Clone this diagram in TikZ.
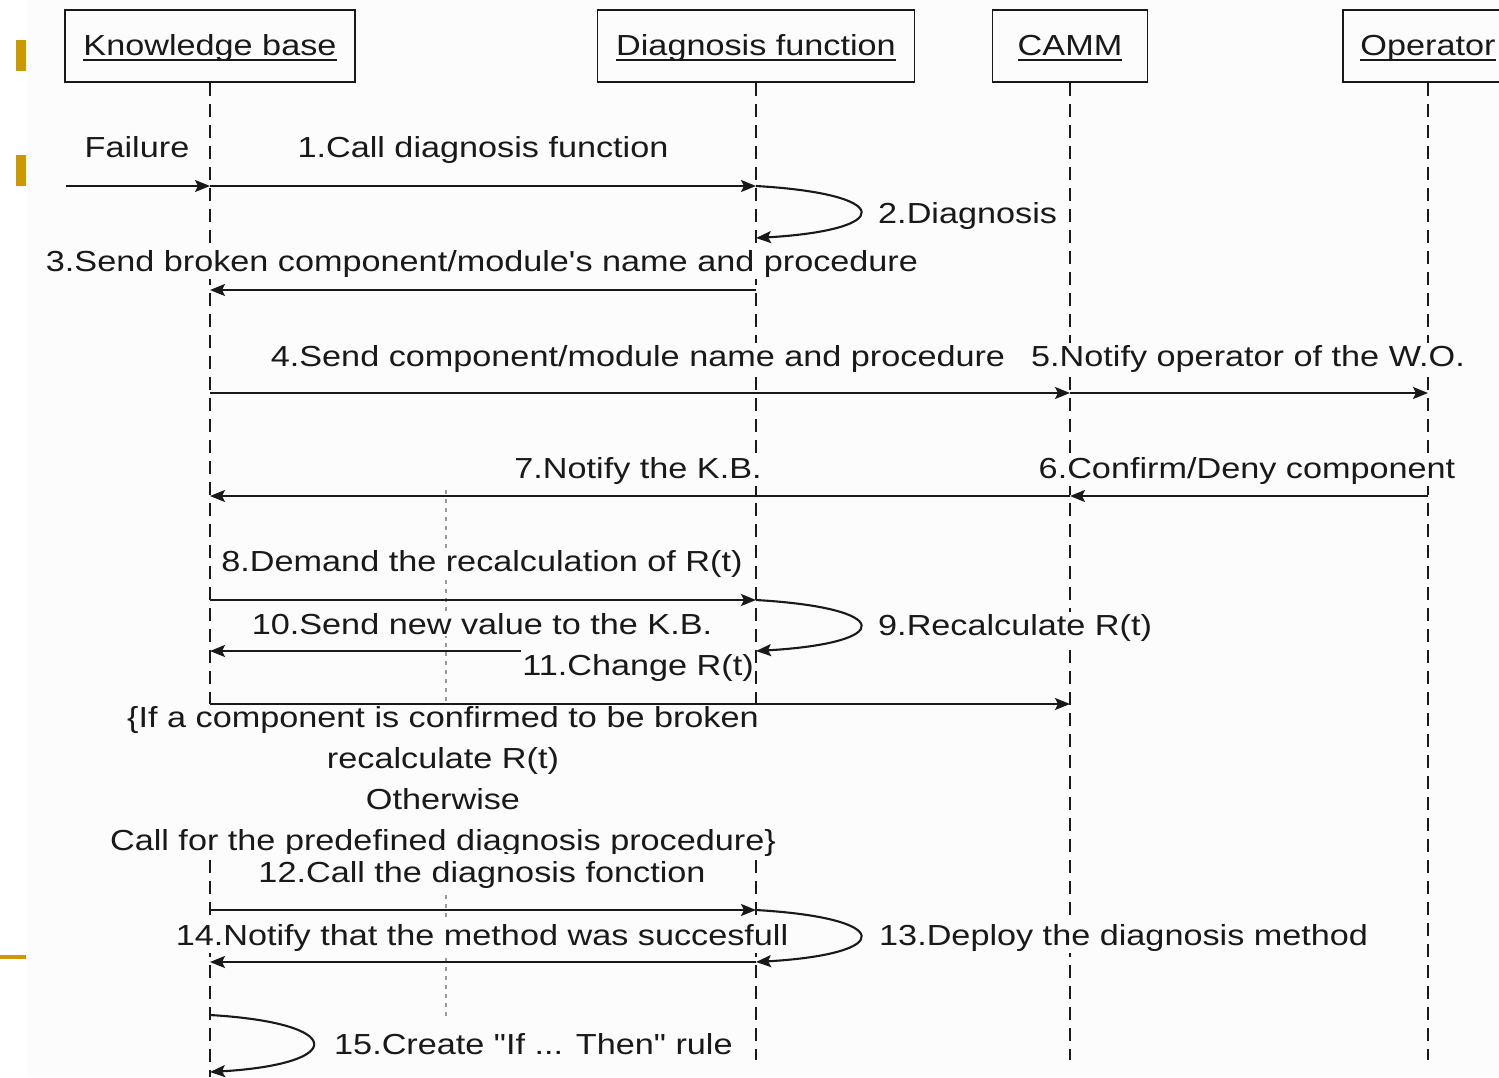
\documentclass[tikz,border=0pt]{standalone}
\usetikzlibrary{arrows.meta}
\definecolor{slidebg}{RGB}{252,252,252}
\definecolor{slidegold}{RGB}{204,153,0}
\definecolor{inkgray}{RGB}{25,25,25}
\font\seqfontraw="Liberation Sans:extend=1.18" at 29pt
\newcommand\seqfont{\seqfontraw\baselineskip=41pt\relax}
\newcommand\headname[1]{\setbox0=\hbox{#1}\rlap{\vrule width \wd0 height -4pt depth 6pt}\box0}

\begin{document}
\begin{tikzpicture}[x=1pt,y=-1pt,>={Stealth[length=15pt,width=12pt,inset=3pt]},
  head node/.style={rectangle,draw=inkgray,line width=1.6pt,minimum width=#1,minimum height=72pt,inner sep=0pt,text height=24pt,text depth=6pt,font=\seqfont,text=inkgray},
  life line/.style={draw=inkgray,line width=1.5pt,dash pattern=on 13pt off 8pt},
  guide line/.style={draw=black!40,line width=1.2pt,dash pattern=on 4pt off 5pt},
  msg line/.style={->,draw=inkgray,line width=2.1pt},
  label node/.style={anchor=base,fill=slidebg,inner sep=2pt,font=\seqfont,text=inkgray}]

\useasboundingbox (0,0) rectangle (1499,1077);
\fill[white] (0,0) rectangle (1499,1077);
\fill[slidebg] (27,0) rectangle (1499,1077);
\fill[slidegold] (16,40) rectangle (26,71);
\fill[slidegold] (16,155) rectangle (26,186);
\fill[slidegold] (0,955) rectangle (26,959);

\node[head node=290] (kb) at (210,46) {\headname{Knowledge base}};
\node[head node=317] (df) at (756,46) {\headname{Diagnosis function}};
\node[head node=155] (camm) at (1070,46) {\headname{CAMM}};
\node[head node=170] (op) at (1428,46) {\headname{Operator}};

\coordinate (kb-end) at (210,1077);
\coordinate (df-end) at (756,1060);
\coordinate (camm-end) at (1070,1060);
\coordinate (op-end) at (1428,1060);
\coordinate (found) at (66,186);
\coordinate (guide-top) at (446,490);
\coordinate (guide-end) at (446,1020);

\foreach \r/\h in {a/186,b/238,c/290,d/393,e/496,f/600,g/651,h/704,i/910,j/962,k/1015,l/1072}{
  \coordinate (row-\r) at (0,\h);
  \foreach \who in {kb,df,camm,op}
    \coordinate (\who-\r) at (\who |- row-\r);
}

\foreach \who in {kb,df,camm,op}
  \draw[life line] (\who.south) -- (\who-end);
\draw[guide line] (guide-top) -- (guide-end);

\node[label node] (s0) at (137,157) {Failure};
\node[label node] (s1) at (483,157) {1.Call diagnosis function};
\node[label node,anchor=base west] (s2) at (876,223) {2.Diagnosis};
\node[label node] (s3) at (482,271) {3.Send broken component/module's name and procedure};
\node[label node] (s4) at (638,366) {4.Send component/module name and procedure};
\node[label node] (s5) at (1248,366) {5.Notify operator of the W.O.};
\node[label node] (s6) at (1247,478) {6.Confirm/Deny component};
\node[label node] (s7) at (638,478) {7.Notify the K.B.};
\node[label node] (s8) at (482,571) {8.Demand the recalculation of R(t)};
\node[label node,anchor=base west] (s9) at (876,635) {9.Recalculate R(t)};
\node[label node] (s10) at (482,634) {10.Send new value to the K.B.};
\node[label node,anchor=north,align=center,inner ysep=2pt,inner xsep=3pt] (cond) at (443,704)
  {\{If a component is confirmed to be broken\\recalculate R(t)\\Otherwise\\Call for the predefined diagnosis procedure\}};
\node[label node,inner ysep=7pt] (s12) at (482,882) {12.Call the diagnosis fonction};
\node[label node,anchor=base west] (s13) at (877,945) {13.Deploy the diagnosis method};
\node[label node] (s14) at (482,945) {14.Notify that the method was succesfull};
\node[label node,anchor=base west] (s15) at (332,1054) {15.Create "If ... Then" rule};

\draw[msg line] (df-g) -- (kb-g);
\node[label node,anchor=base east,inner ysep=5pt,inner xsep=1pt] (s11) at (755,675) {11.Change R(t)};

\draw[msg line] (found) -- (kb-a);
\draw[msg line] (kb-a) -- (df-a);
\draw[msg line] (df-a) .. controls +(139,8) and +(139,-8) .. (df-b);
\draw[msg line] (df-c) -- (kb-c);
\draw[msg line] (kb-d) -- (camm-d);
\draw[msg line] (camm-d) -- (op-d);
\draw[msg line] (op-e) -- (camm-e);
\draw[msg line] (camm-e) -- (kb-e);
\draw[msg line] (kb-f) -- (df-f);
\draw[msg line] (df-f) .. controls +(139,8) and +(139,-8) .. (df-g);
\draw[msg line] (kb-h) -- (camm-h);
\draw[msg line] (kb-i) -- (df-i);
\draw[msg line] (df-i) .. controls +(139,8) and +(139,-8) .. (df-j);
\draw[msg line] (df-j) -- (kb-j);
\draw[msg line] (kb-k) .. controls +(137,8) and +(137,-8) .. (kb-l);
\end{tikzpicture}
\end{document}
